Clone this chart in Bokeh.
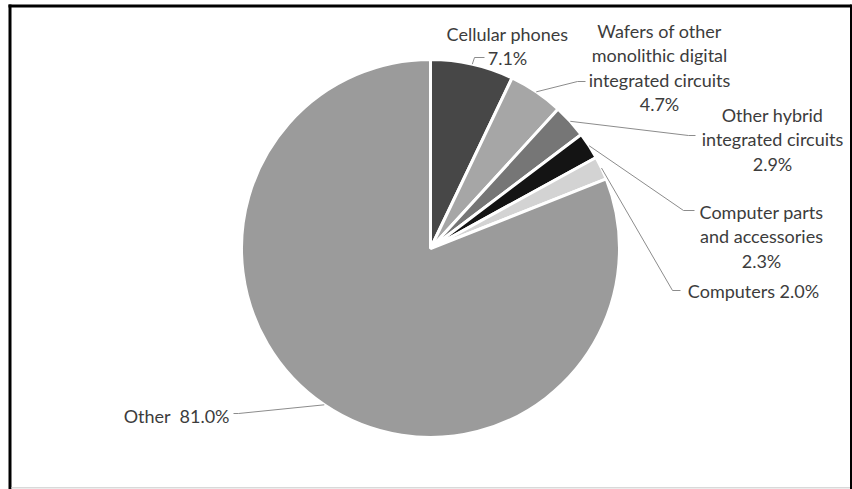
import math
from bokeh.plotting import figure
from bokeh.models import Range1d, BoxAnnotation, ColumnDataSource
from bokeh.core.properties import value
from bokeh.embed import file_html
from bokeh.resources import INLINE

# ---- data ----
categories = ["Cellular phones", "Wafers of other monolithic digital integrated circuits",
              "Other hybrid integrated circuits", "Computer parts and accessories",
              "Computers", "Other"]
shares = [7.1, 4.7, 2.9, 2.3, 2.0, 81.0]
colors = ["#474747", "#a6a6a6", "#767676", "#141414", "#d3d3d3", "#9b9b9b"]

# label line breaks (text layout); "{p}" is replaced by the percentage
label_lines = [
    ["Cellular phones", "{p}"],
    ["Wafers of other", "monolithic digital", "integrated circuits", "{p}"],
    ["Other hybrid", "integrated circuits", "{p}"],
    ["Computer parts", "and accessories", "{p}"],
    ["Computers {p}"],
    ["Other\u00a0 {p}"],
]

# ---- layout (screen pixels, y from top) ----
W, H = 852, 489
CX, CY, R = 430, 248, 189
label_x = [507, 659, 772, 761, 753, 229]
label_align = ["center", "center", "center", "center", "center", "right"]
label_y0 = [33, 30, 114, 211, 290, 415]
line_step = 24.5
elbow = [(474, 57), (577, 81), (688, 135), (683, 210), (672, 290), (238, 413)]
lead_end = [(484, 57), (585, 81), (695, 135), (694, 210), (680, 290), (233, 413)]

def fy(y):
    return H - y

p = figure(width=W, height=H, x_range=Range1d(0, W), y_range=Range1d(0, H),
           min_border=0, toolbar_location=None, output_backend="svg",
           x_axis_location=None, y_axis_location=None)
p.grid.visible = False
p.outline_line_color = None
p.background_fill_color = "white"
p.border_fill_color = "white"

# wedges
total = sum(shares)
starts, ends, mids = [], [], []
c = 0.0
for s in shares:
    a0 = math.pi / 2 - 2 * math.pi * c / total
    c += s
    a1 = math.pi / 2 - 2 * math.pi * c / total
    starts.append(a0)
    ends.append(a1)
    mids.append((a0 + a1) / 2)

src = ColumnDataSource(dict(start=starts, end=ends, color=colors,
                            x=[CX] * len(shares), y=[fy(CY)] * len(shares)))
p.wedge(x="x", y="y", radius=R, start_angle="start", end_angle="end",
        direction="clock", fill_color="color", line_color="white", line_width=3,
        source=src)

# leader lines
xs, ys = [], []
for i, m in enumerate(mids):
    sx = CX + R * math.cos(m)
    sy = fy(CY) + R * math.sin(m)
    xs.append([sx, elbow[i][0], lead_end[i][0]])
    ys.append([sy, fy(elbow[i][1]), fy(lead_end[i][1])])
p.multi_line(xs=xs, ys=ys, line_color="#8c8c8c", line_width=1)

# labels
for i, lines in enumerate(label_lines):
    pct = f"{shares[i]:.1f}%"
    txt = [ln.replace("{p}", pct) for ln in lines]
    yy = [fy(label_y0[i] + k * line_step) for k in range(len(txt))]
    p.text(x=[label_x[i]] * len(txt), y=yy, text=txt,
           text_align=label_align[i], text_baseline="alphabetic",
           text_font=value("Lato"), text_font_size="18px", text_color="#3c3c3c")

# frame
p.add_layout(BoxAnnotation(left=8, right=851, bottom=fy(7), top=fy(4),
                           fill_color="black", fill_alpha=1, line_color=None))
p.add_layout(BoxAnnotation(left=8, right=11, bottom=0, top=fy(4),
                           fill_color="black", fill_alpha=1, line_color=None))
p.add_layout(BoxAnnotation(left=849.5, right=852, bottom=0, top=fy(4),
                           fill_color="black", fill_alpha=1, line_color=None))
p.add_layout(BoxAnnotation(left=11, right=849.5, bottom=fy(488), top=fy(486.5),
                           fill_color="#d9d9d9", fill_alpha=1, line_color=None))

open("out.html", "w").write(file_html(p, INLINE))
